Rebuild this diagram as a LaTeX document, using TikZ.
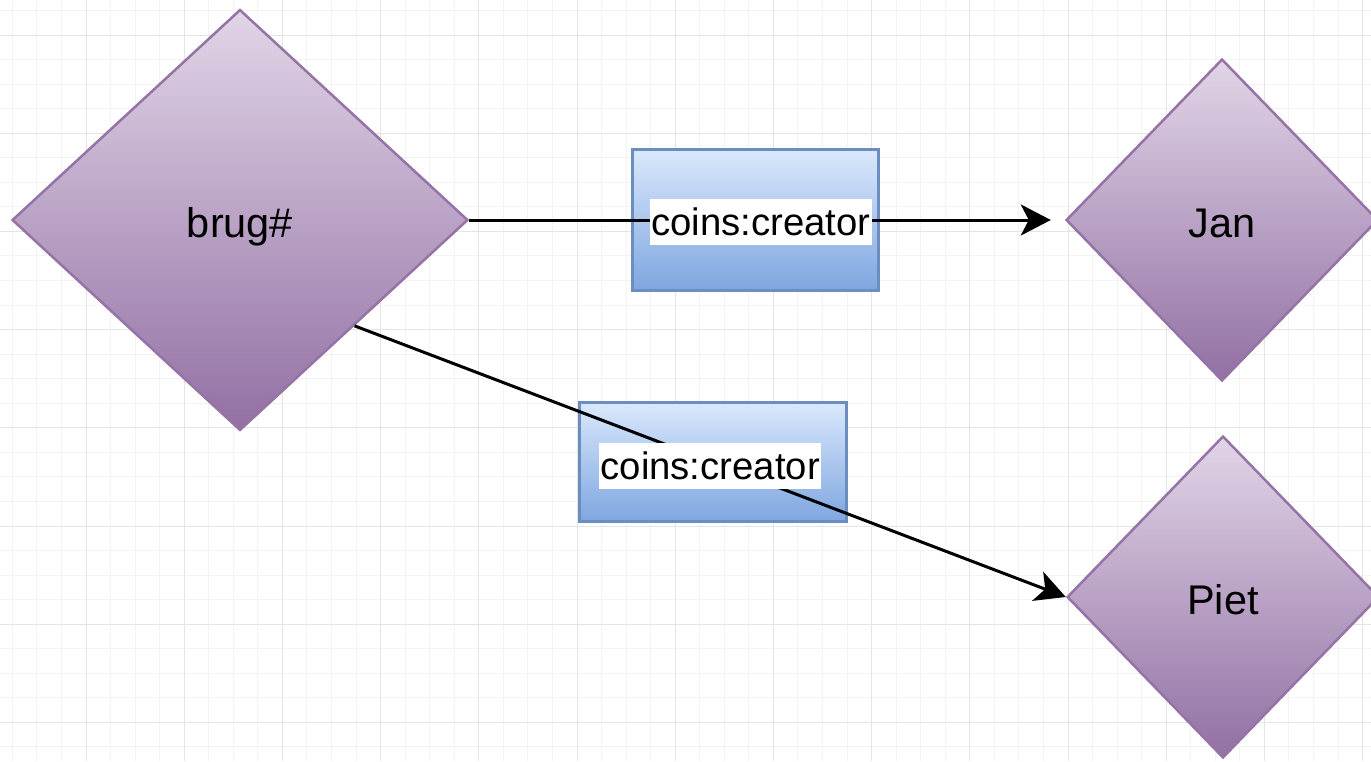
\documentclass[tikz,border=0pt]{standalone}
\usepackage{fontspec}
\setmainfont{Liberation Sans}
\usetikzlibrary{shapes.geometric,arrows.meta,calc}
\definecolor{gridminor}{HTML}{F3F3F3}
\definecolor{gridmajor}{HTML}{E4E4E4}
\definecolor{purpletop}{HTML}{E1D5E7}
\definecolor{purplebot}{HTML}{9270A3}
\definecolor{purpleline}{HTML}{9673A6}
\definecolor{bluetop}{HTML}{DAE8FC}
\definecolor{bluebot}{HTML}{7EA6E0}
\definecolor{blueline}{HTML}{6C8EBF}

\begin{document}
\begin{tikzpicture}[x=0.02cm, y=-0.02cm,
    person/.style={diamond, draw=purpleline, line width=0.05cm,
      top color=purpletop, bottom color=purplebot, inner sep=0pt,
      font=\fontsize{23.6}{28}\selectfont, text height=0.8cm, text depth=0.12cm},
    relbox/.style={rectangle, draw=blueline, line width=0.06cm,
      top color=bluetop, bottom color=bluebot, inner sep=0pt},
    rel/.style={line width=0.06cm, -{Stealth[length=0.6cm, width=0.62cm, inset=0.16cm]}},
    rellabel/.style={fill=white, inner xsep=0.03cm, inner ysep=0pt,
      font=\fontsize{21.8}{26}\selectfont, text height=0.72cm, text depth=0.2cm}]

    \path[use as bounding box, fill=white] (0,0) rectangle (1371,761);

    \foreach \k in {0,...,55}
      \draw[gridminor, line width=0.02cm] ({12.35+24.55*\k},0) -- ++(0,761);
    \foreach \k in {0,...,30}
      \draw[gridminor, line width=0.02cm] (0,{10.45+24.55*\k}) -- ++(1371,0);
    \foreach \k in {0,...,13}
      \draw[gridmajor, line width=0.02cm] ({86+98.2*\k},0) -- ++(0,761);
    \foreach \k in {0,...,7}
      \draw[gridmajor, line width=0.02cm] (0,{35+98.2*\k}) -- ++(1371,0);

    \node[person, minimum width=9.12cm, minimum height=8.42cm] (brug) at (240,220) {brug\#};

    \node[person, minimum width=6.24cm, minimum height=6.44cm] (jan) at ($(brug)+(982,0)$) {Jan};

    \node[person, minimum width=6.24cm, minimum height=6.44cm] (piet) at ($(jan)+(1,377)$) {Piet};

    \node[relbox, minimum width=4.92cm, minimum height=2.82cm] (box1) at (755.5,220) {};

    \node[relbox, minimum width=5.36cm, minimum height=2.4cm] (box2) at (713,462) {};

    \draw[rel, shorten >=0.28cm] (brug.east) -- node[rellabel, pos=0.49, yshift=-0.04cm] (lbl1) {coins:creator} (jan.west);
    \draw[rel] (brug.south east) -- node[rellabel, yshift=-0.1cm] (lbl2) {coins:creator} (piet.west);

\end{tikzpicture}
\end{document}
